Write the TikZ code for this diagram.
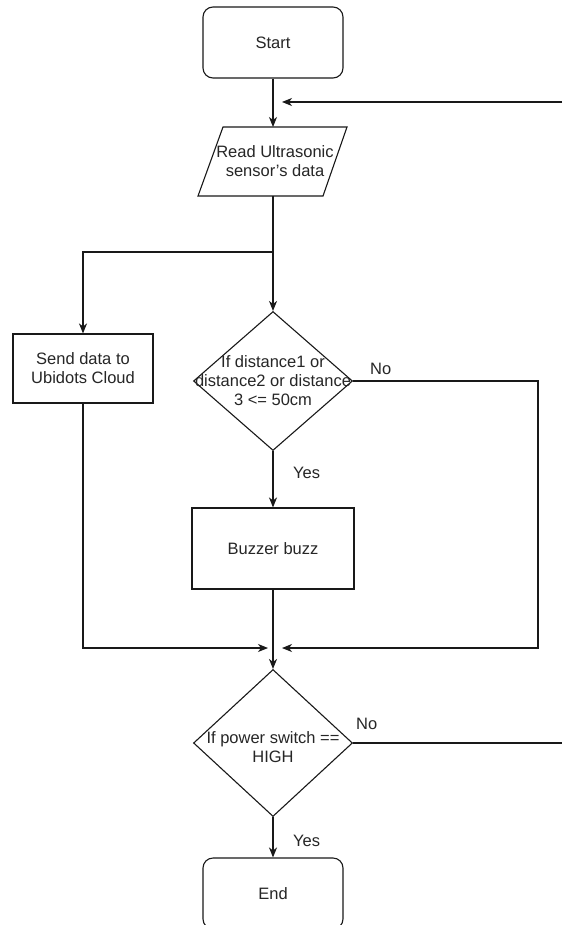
\documentclass[tikz,border=0pt]{standalone}
\usepackage{fontspec}
\setmainfont{Liberation Sans}
\usetikzlibrary{shapes.geometric,arrows.meta}
\begin{document}
\begin{tikzpicture}[x=1pt,y=-1pt,
  every node/.style={font=\fontsize{16.5}{19}\selectfont, text=black!85, align=center, inner sep=0pt},
  conn/.style={draw=black!90, line width=1.1pt},
  arr/.style={conn, -{Stealth[length=10pt,width=8pt,inset=3pt]}},
  terminal/.style={draw=black!90, line width=1.1pt, rounded corners=10pt, minimum width=140pt, minimum height=71pt},
  procbox/.style={draw=black!90, line width=1.1pt, minimum width=140pt, minimum height=69pt},
  decision/.style={draw=black!90, line width=1.1pt, diamond, aspect=1.14, minimum width=159pt, minimum height=139pt},
  lbl/.style={anchor=west}
]
\useasboundingbox (0,0) rectangle (562,925);
\fill[white] (0,0) rectangle (562,925);

% nodes
\node[terminal] (start) at (273,42.5) {Start};
\draw[conn] (223,127) -- (347,127) -- (323,196) -- (198,196) -- cycle;
\node[minimum width=125pt, minimum height=69pt] (read) at (275,161.5) {Read Ultrasonic\\sensor's data};
\node[procbox] (send) at (83,368.5) {Send data to\\Ubidots Cloud};
\node[decision] (d1) at (273,381) {};
\node (d1t) at (273,381) {If distance1 or\\distance2 or distance\\3 <= 50cm};
\node[procbox, minimum width=162pt, minimum height=81pt] (buzz) at (273,548.5) {Buzzer buzz};
\node[decision, minimum height=147pt, aspect=1.08] (d2) at (273,743) {};
\node (d2t) at (273,747) {If power switch ==\\HIGH};
\node[terminal] (end) at (273,893.5) {End};

% coordinates
\coordinate (loopR) at (562,102);
\coordinate (loopT) at (282,102);
\coordinate (split) at (273,252);
\coordinate (splitL) at (83,252);
\coordinate (noR) at (538,381);
\coordinate (noRB) at (538,648);
\coordinate (mergeR) at (282,648);
\coordinate (sendB) at (83,648);
\coordinate (mergeL) at (268,648);
\coordinate (exitR) at (562,743);

% connectors
\draw[arr] (start.south) -- (273,127);
\draw[arr] (loopR) -- (loopT);
\draw[conn] (273,196) -- (split);
\draw[arr] (split) -- (splitL) -- (send.north);
\draw[arr] (split) -- (d1.north);
\draw[arr] (d1.east) -- (noR) -- (noRB) -- (mergeR);
\draw[arr] (d1.south) -- (buzz.north);
\draw[arr] (buzz.south) -- (d2.north);
\draw[arr] (send.south) -- (sendB) -- (mergeL);
\draw[conn] (d2.east) -- (exitR);
\draw[arr] (d2.south) -- (end.north);

% labels
\node[lbl] at (370,369) {No};
\node[lbl] at (293,473) {Yes};
\node[lbl] at (356,724) {No};
\node[lbl] at (293,841) {Yes};
\end{tikzpicture}
\end{document}
